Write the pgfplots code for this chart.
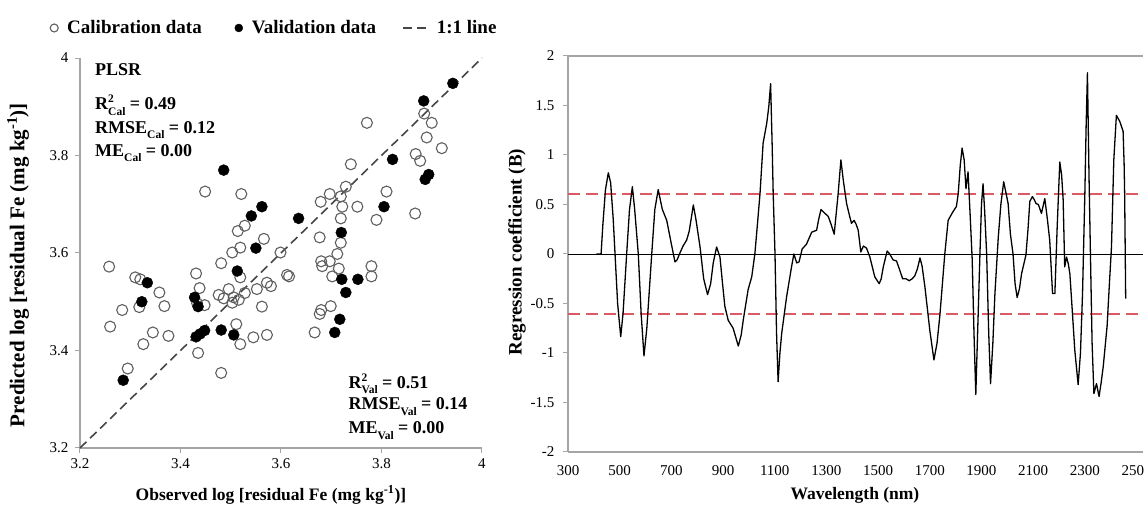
\documentclass[border=0pt]{standalone}
\usepackage{fontspec}
\setmainfont{Liberation Serif}
\usepackage{pgfplots}
\pgfplotsset{compat=1.18}

\definecolor{axgray}{RGB}{165,165,165}
\definecolor{ptgray}{RGB}{95,95,95}
\definecolor{linegray}{RGB}{70,70,70}
\definecolor{reddash}{RGB}{220,90,100}

\newcommand{\tickfont}{\fontsize{15}{15}\selectfont}
\newcommand{\labfont}{\bfseries\fontsize{17.5}{20}\selectfont}
\newcommand{\ylabfont}{\bfseries\fontsize{21}{24}\selectfont}
\newcommand{\ylabfontb}{\bfseries\fontsize{19}{22}\selectfont}
\newcommand{\annfont}{\bfseries\fontsize{18}{20}\selectfont}
\newcommand{\legfont}{\bfseries\fontsize{19}{21}\selectfont}
\newcommand{\sub}[1]{\raisebox{-0.28em}{\fontsize{11.5}{11.5}\selectfont #1}}
\newcommand{\supsub}[2]{\rlap{\raisebox{0.4em}{\fontsize{11.5}{11.5}\selectfont #1}}\sub{#2}}

\pgfplotsset{
  markleg/.style={legend image code/.code={\path[draw=none,fill=none] (0pt,-4pt) rectangle (16pt,4pt); \draw[##1, mark size=4pt] plot coordinates {(11pt,0pt)};}},
  lineleg/.style={legend image code/.code={\draw[##1] (0pt,0pt) -- (25pt,0pt);}},
}

\begin{document}
\begin{tikzpicture}[x=1pt,y=1pt]
\useasboundingbox (0,0) rectangle (1144,508);

% ---------------- Left: scatter ----------------
\begin{axis}[
  at={(80pt,60pt)}, anchor=south west,
  scale only axis, width=402pt, height=390pt,
  xmin=3.2, xmax=4, ymin=3.2, ymax=4,
  axis x line*=bottom, axis y line*=left,
  axis line style={axgray, line width=1.6pt},
  xtick={3.2,3.4,3.6,3.8,4}, xticklabels={3.2,3.4,3.6,3.8,4},
  ytick={3.2,3.4,3.6,3.8,4}, yticklabels={3.2,3.4,3.6,3.8,4},
  tick style={axgray, line width=1pt},
  tick align=outside, major tick length=5pt,
  /pgf/number format/assume math mode=true,
  xticklabel style={font=\tickfont, yshift=-2pt},
  yticklabel style={font=\tickfont, xshift=-3pt},
  xlabel={Observed log [residual Fe (mg kg\textsuperscript{-1})]},
  ylabel={Predicted log [residual Fe (mg kg\textsuperscript{-1})]},
  xlabel style={font=\labfont, at={(axis description cs:0.475,-0.1205)}, anchor=center},
  ylabel style={font=\ylabfont, at={(axis description cs:-0.154,0.469)}, anchor=center},
  legend style={at={(axis description cs:-0.092,1.077)}, anchor=west, draw=none, fill=none,
    inner sep=0pt, font=\legfont,
    /tikz/every odd column/.append style={column sep=6pt},
    /tikz/every even column/.append style={column sep=24pt}},
  legend columns=3, legend cell align=left,
  clip=false,
]
\addplot[only marks, mark=o, mark size=5.5pt, mark options={draw=ptgray, line width=1.1pt}, markleg]
coordinates {
(3.449,3.726) (3.521,3.721) (3.514,3.645) (3.528,3.656) (3.519,3.611)
(3.566,3.629) (3.503,3.601) (3.481,3.579) (3.599,3.601) (3.258,3.572)
(3.431,3.558) (3.612,3.555) (3.885,3.886) (3.900,3.867) (3.771,3.867)
(3.890,3.837) (3.920,3.815) (3.868,3.803) (3.877,3.789) (3.739,3.782)
(3.729,3.736) (3.697,3.721) (3.810,3.726) (3.719,3.716) (3.679,3.705)
(3.722,3.695) (3.752,3.695) (3.719,3.671) (3.790,3.668) (3.867,3.681)
(3.677,3.632) (3.719,3.621) (3.712,3.598) (3.680,3.583) (3.682,3.573)
(3.697,3.583) (3.715,3.568) (3.616,3.552) (3.780,3.573) (3.780,3.552)
(3.702,3.552) (3.680,3.483) (3.699,3.491) (3.677,3.475) (3.667,3.437)
(3.310,3.550) (3.320,3.546) (3.358,3.519) (3.318,3.489) (3.284,3.483)
(3.368,3.491) (3.260,3.449) (3.345,3.437) (3.376,3.430) (3.326,3.413)
(3.295,3.363) (3.519,3.550) (3.438,3.528) (3.476,3.514) (3.496,3.526)
(3.486,3.507) (3.506,3.509) (3.516,3.504) (3.503,3.498) (3.528,3.518)
(3.552,3.526) (3.572,3.539) (3.580,3.532) (3.433,3.497) (3.448,3.493)
(3.562,3.490) (3.511,3.454) (3.519,3.413) (3.545,3.427) (3.572,3.432)
(3.435,3.395) (3.481,3.354)
};
\addlegendentry{Calibration data}
\addplot[only marks, mark=*, mark size=5.5pt, mark options={draw=black, fill=black}, markleg]
coordinates {
(3.486,3.770) (3.541,3.676) (3.562,3.695) (3.550,3.610) (3.513,3.563)
(3.942,3.948) (3.884,3.912) (3.822,3.792) (3.894,3.761) (3.887,3.751)
(3.805,3.695) (3.635,3.671) (3.720,3.642) (3.721,3.546) (3.753,3.546)
(3.729,3.519) (3.717,3.464) (3.707,3.437) (3.334,3.539) (3.323,3.500)
(3.286,3.339) (3.428,3.509) (3.435,3.490) (3.431,3.428) (3.439,3.434)
(3.448,3.441) (3.481,3.442) (3.506,3.432)
};
\addlegendentry{Validation data}
\addplot[linegray, line width=1.6pt, dash pattern=on 9pt off 5pt, lineleg]
coordinates {(3.2,3.2) (4,4)};
\addlegendentry{1:1 line}
\end{axis}

\node[anchor=base west, font=\annfont] at (91.7,432) {PLSR};
\node[anchor=base west, font=\annfont] at (91.7,398) {R\supsub{2}{Cal} = 0.49};
\node[anchor=base west, font=\annfont] at (91.7,374.7) {RMSE\sub{Cal} = 0.12};
\node[anchor=base west, font=\annfont] at (91.7,351.3) {ME\sub{Cal} = 0.00};
\node[anchor=base west, font=\annfont] at (345,119.7) {R\supsub{2}{Val} = 0.51};
\node[anchor=base west, font=\annfont] at (345,98) {RMSE\sub{Val} = 0.14};
\node[anchor=base west, font=\annfont] at (345,74) {ME\sub{Val} = 0.00};

% ---------------- Right: regression coefficients ----------------
\begin{axis}[
  at={(568pt,56pt)}, anchor=south west,
  scale only axis, width=575pt, height=396pt,
  xmin=300, xmax=2525, ymin=-2, ymax=2,
  axis x line*=bottom, axis y line*=left,
  axis line style={axgray, line width=1.6pt},
  xtick={300,500,...,2500},
  xticklabels={300,500,700,900,1100,1300,1500,1700,1900,2100,2300,2500},
  ytick={-2,-1.5,-1,-0.5,0,0.5,1,1.5,2},
  yticklabels={-2,-1.5,-1,-0.5,0,0.5,1,1.5,2},
  xtick style={draw=none},
  ytick style={axgray, line width=1pt},
  tick align=outside, major tick length=5pt,
  /pgf/number format/assume math mode=true,
  xticklabel style={font=\tickfont, yshift=-5pt},
  yticklabel style={font=\tickfont, xshift=-5pt},
  xlabel={Wavelength (nm)},
  ylabel={Regression coefficient (B)},
  xlabel style={font=\labfont, at={(axis description cs:0.499,-0.1086)}, anchor=center},
  ylabel style={font=\ylabfontb, at={(axis description cs:-0.0887,0.505)}, anchor=center},
]
\draw[axgray, line width=1.6pt] (axis cs:300,2) -- (axis cs:2525,2);
\draw[black, line width=0.6pt] (axis cs:300,0) -- (axis cs:2525,0);
\addplot[reddash, line width=2.2pt, dash pattern=on 12pt off 6pt] coordinates {(300,0.61) (2525,0.61)};
\addplot[reddash, line width=2.2pt, dash pattern=on 12pt off 6pt] coordinates {(300,-0.61) (2525,-0.61)};
\addplot[black, line width=1.3pt, line join=round] table {
410 0
428 0
435 0.3
445 0.65
456 0.82
465 0.72
475 0.35
482 0
492 -0.5
504 -0.835
513 -0.6
527 0
538 0.45
549 0.68
558 0.45
572 0
583 -0.6
594 -1.03
605 -0.75
624 0
636 0.45
649 0.65
665 0.45
682 0.34
700 0.1
714 -0.08
722 -0.06
733 0.01
745 0.08
759 0.14
769 0.23
785 0.495
795 0.35
811 0.07
825 -0.25
840 -0.41
852 -0.3
862 -0.09
875 0.07
888 -0.03
898 -0.3
907 -0.53
920 -0.67
939 -0.75
959 -0.93
970 -0.82
978 -0.67
997 -0.36
1011 -0.23
1023 0
1033 0.3
1043 0.61
1055 1.12
1069 1.32
1077 1.49
1084 1.72
1090 1.1
1094 0.61
1101 0
1107 -0.8
1113 -1.29
1120 -1.0
1127 -0.80
1146 -0.43
1165 -0.13
1174 0
1185 -0.09
1194 -0.08
1206 0.05
1223 0.1
1243 0.22
1262 0.24
1270 0.35
1279 0.45
1290 0.42
1307 0.38
1318 0.3
1330 0.2
1345 0.6
1356 0.95
1365 0.75
1378 0.51
1390 0.38
1397 0.31
1407 0.34
1415 0.3
1423 0.24
1433 0.02
1443 0.08
1455 0.06
1468 -0.03
1487 -0.23
1504 -0.30
1512 -0.25
1520 -0.13
1535 0.03
1545 0.0
1558 -0.06
1571 -0.07
1582 -0.15
1595 -0.25
1608 -0.25
1620 -0.27
1632 -0.25
1642 -0.22
1652 -0.15
1662 -0.04
1670 -0.12
1681 -0.33
1700 -0.77
1716 -1.07
1728 -0.9
1739 -0.62
1758 0
1771 0.34
1788 0.42
1803 0.48
1810 0.61
1818 0.9
1825 1.07
1833 0.95
1840 0.66
1848 0.83
1856 0.4
1864 -0.05
1871 -0.8
1878 -1.42
1885 -0.8
1894 0
1900 0.5
1906 0.71
1912 0.45
1920 0
1928 -0.8
1935 -1.31
1944 -0.9
1952 -0.40
1965 0.17
1975 0.5
1986 0.73
2003 0.51
2012 0.2
2022 0
2030 -0.3
2038 -0.44
2047 -0.35
2055 -0.2
2072 -0.01
2080 0.25
2087 0.53
2097 0.58
2104 0.55
2111 0.51
2120 0.5
2132 0.41
2145 0.56
2155 0.35
2164 0.14
2175 -0.40
2184 -0.40
2193 0.28
2203 0.93
2210 0.8
2216 0.55
2222 -0.13
2229 -0.03
2236 -0.1
2242 -0.2
2252 -0.6
2261 -0.97
2274 -1.32
2283 -1.0
2291 -0.40
2300 0.61
2305 1.3
2310 1.83
2316 0.8
2322 -0.06
2328 -0.9
2335 -1.41
2345 -1.31
2355 -1.44
2363 -1.3
2371 -1.14
2386 -0.73
2395 -0.3
2403 0.07
2412 0.95
2422 1.40
2435 1.34
2448 1.24
2452 0.9
2454 0.61
2458 -0.45
};
\end{axis}
\end{tikzpicture}
\end{document}
